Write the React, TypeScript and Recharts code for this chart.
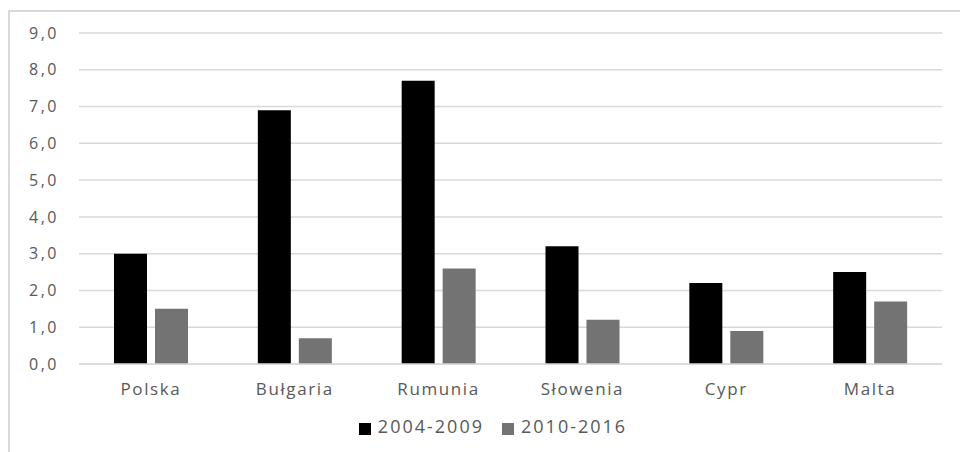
import { Bar, BarChart, CartesianGrid, Legend, XAxis, YAxis } from 'recharts';

const countries = ['Polska', 'Bułgaria', 'Rumunia', 'Słowenia', 'Cypr', 'Malta'];
const period1 = [3.0, 6.9, 7.7, 3.2, 2.2, 2.5];
const period2 = [1.5, 0.7, 2.6, 1.2, 0.9, 1.7];
const yTicks = [0, 1, 2, 3, 4, 5, 6, 7, 8, 9];

const data = countries.map((name, i) => ({
  name,
  a: period1[i],
  b: period2[i],
}));

const textColor = '#595959';

export default function App() {
  return (
    <div
      style={{
        position: 'absolute',
        left: 0,
        top: 0,
        width: 960,
        height: 452,
        overflow: 'hidden',
        background: '#fff',
        fontFamily: '"Open Sans", sans-serif',
      }}
    >
      <div
        style={{
          position: 'absolute',
          left: 8,
          top: 10,
          width: 980,
          height: 480,
          border: '2px solid #d9d9d9',
        }}
      />
      <BarChart
        width={960}
        height={452}
        data={data}
        margin={{ top: 33, right: 18, left: 0, bottom: 14 }}
        barCategoryGap={35}
        barGap={8}
      >
        <CartesianGrid vertical={false} stroke='#d9d9d9' strokeWidth={1.5} />
        <XAxis
          dataKey='name'
          height={50}
          tickLine={false}
          axisLine={{ stroke: '#d9d9d9', strokeWidth: 1.5 }}
          tickMargin={13}
          tick={{ fill: textColor, fontSize: 17, letterSpacing: 1.6 }}
        />
        <YAxis
          width={79}
          domain={[0, 9]}
          ticks={yTicks}
          interval={0}
          axisLine={false}
          tickLine={false}
          tickMargin={14}
          tick={{ fill: textColor, fontSize: 16, letterSpacing: 2.5 }}
          tickFormatter={(v) => v.toFixed(1).replace('.', ',')}
        />
        <Legend
          verticalAlign='bottom'
          iconType='square'
          iconSize={12}
          wrapperStyle={{ left: 31 }}
          formatter={(value) => (
            <span
              style={{
                color: textColor,
                fontSize: 18,
                letterSpacing: 2,
                paddingLeft: 3,
                paddingRight: 8,
              }}
            >
              {value}
            </span>
          )}
        />
        <Bar dataKey='a' name='2004-2009' fill='#000000' isAnimationActive={false} />
        <Bar dataKey='b' name='2010-2016' fill='#737373' isAnimationActive={false} />
      </BarChart>
    </div>
  );
}
